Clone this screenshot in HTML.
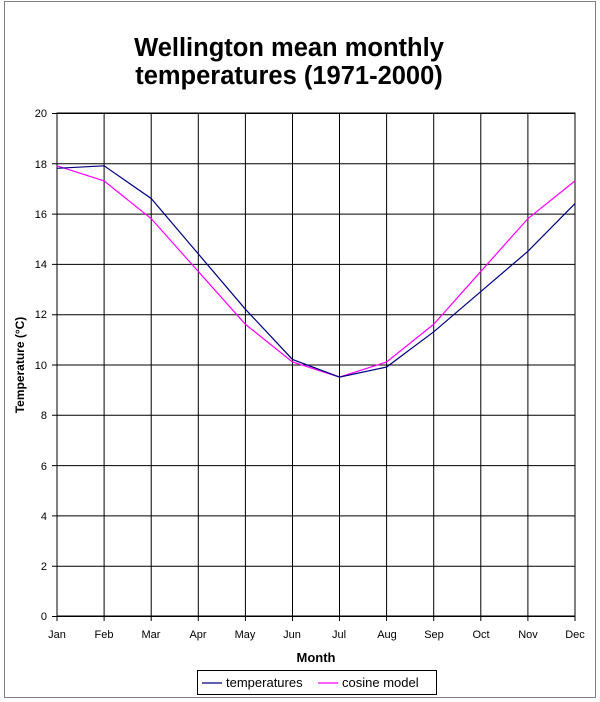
<!DOCTYPE html>
<html><head><meta charset="utf-8"><style>
body{margin:0;background:#fff;}
svg{display:block;font-family:"Liberation Sans",Arial,sans-serif;}
</style></head><body>
<svg width="600" height="702" viewBox="0 0 600 702">
<rect x="4.5" y="1.5" width="591" height="696" fill="#fff" stroke="#808080" stroke-width="1"/>
<text x="289" y="56" text-anchor="middle" font-size="25.5" font-weight="bold">Wellington mean monthly</text>
<text x="289" y="84" text-anchor="middle" font-size="25.5" font-weight="bold">temperatures (1971-2000)</text>
<g stroke="#000" stroke-width="1">
<rect x="57" y="113" width="518" height="503" fill="none"/>
<line x1="52" x2="575" y1="113.5" y2="113.5"/><line x1="52" x2="575" y1="163.8" y2="163.8"/><line x1="52" x2="575" y1="214.1" y2="214.1"/><line x1="52" x2="575" y1="264.4" y2="264.4"/><line x1="52" x2="575" y1="314.7" y2="314.7"/><line x1="52" x2="575" y1="365" y2="365"/><line x1="52" x2="575" y1="415.3" y2="415.3"/><line x1="52" x2="575" y1="465.6" y2="465.6"/><line x1="52" x2="575" y1="515.9" y2="515.9"/><line x1="52" x2="575" y1="566.2" y2="566.2"/><line x1="52" x2="575" y1="616.5" y2="616.5"/>
<line x1="57" x2="57" y1="113" y2="621"/><line x1="104.1" x2="104.1" y1="113" y2="621"/><line x1="151.2" x2="151.2" y1="113" y2="621"/><line x1="198.3" x2="198.3" y1="113" y2="621"/><line x1="245.4" x2="245.4" y1="113" y2="621"/><line x1="292.5" x2="292.5" y1="113" y2="621"/><line x1="339.5" x2="339.5" y1="113" y2="621"/><line x1="386.6" x2="386.6" y1="113" y2="621"/><line x1="433.7" x2="433.7" y1="113" y2="621"/><line x1="480.8" x2="480.8" y1="113" y2="621"/><line x1="527.9" x2="527.9" y1="113" y2="621"/><line x1="575" x2="575" y1="113" y2="621"/>
</g>
<g font-size="11" text-anchor="end">
<text x="47" y="117">20</text><text x="47" y="168">18</text><text x="47" y="218">16</text><text x="47" y="268">14</text><text x="47" y="318">12</text><text x="47" y="369">10</text><text x="47" y="419">8</text><text x="47" y="470">6</text><text x="47" y="520">4</text><text x="47" y="570">2</text><text x="47" y="620">0</text>
</g>
<g font-size="11" text-anchor="middle">
<text x="57" y="638">Jan</text><text x="104" y="638">Feb</text><text x="151" y="638">Mar</text><text x="198" y="638">Apr</text><text x="245" y="638">May</text><text x="292" y="638">Jun</text><text x="339" y="638">Jul</text><text x="387" y="638">Aug</text><text x="434" y="638">Sep</text><text x="481" y="638">Oct</text><text x="528" y="638">Nov</text><text x="575" y="638">Dec</text>
</g>
<text x="316" y="662" text-anchor="middle" font-size="13" font-weight="bold">Month</text>
<text transform="translate(24,365) rotate(-90)" text-anchor="middle" font-size="12" font-weight="bold">Temperature (°C)</text>
<g transform="translate(57,616) scale(47.09,-25.15)" fill="none" stroke-width="1.2">
<polyline vector-effect="non-scaling-stroke" stroke="#ff00ff" points="0,17.9 1,17.3 2,15.8 3,13.7 4,11.6 5,10.1 6,9.5 7,10.1 8,11.6 9,13.7 10,15.8 11,17.3"/>
<polyline vector-effect="non-scaling-stroke" stroke="#000080" points="0,17.8 1,17.9 2,16.6 3,14.4 4,12.2 5,10.2 6,9.5 7,9.9 8,11.3 9,12.9 10,14.5 11,16.4"/>
</g>
<rect x="197.5" y="670.5" width="239" height="24" fill="#fff" stroke="#000"/>
<line x1="202" x2="222" y1="683" y2="683" stroke="#000080" stroke-width="1.2"/>
<text x="226" y="687" font-size="13">temperatures</text>
<line x1="318" x2="338" y1="683" y2="683" stroke="#ff00ff" stroke-width="1.2"/>
<text x="342" y="687" font-size="13">cosine model</text>
</svg>
</body></html>
